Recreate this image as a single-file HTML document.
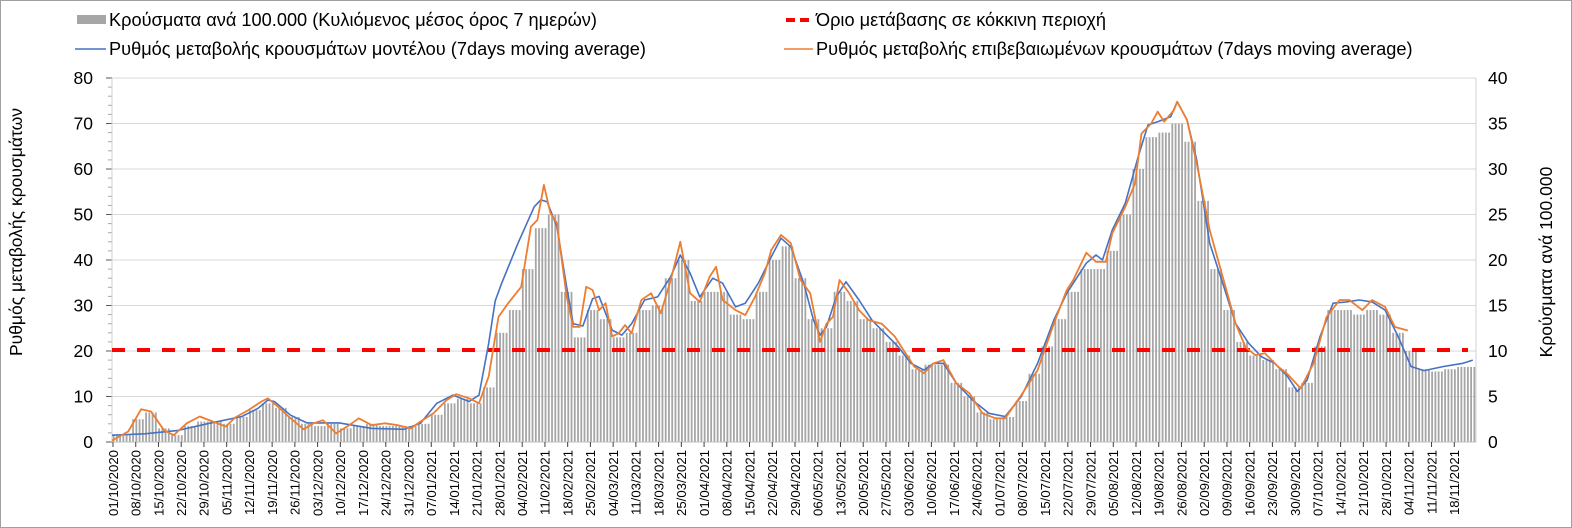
<!DOCTYPE html>
<html><head><meta charset="utf-8">
<style>
html,body{margin:0;padding:0;background:#fff;}
svg{display:block;font-family:"Liberation Sans","DejaVu Sans",sans-serif;}
</style></head>
<body>
<svg id="chart" width="1572" height="528" viewBox="0 0 1572 528" xmlns="http://www.w3.org/2000/svg">
<rect x="0.5" y="0.5" width="1571" height="527" fill="#fff" stroke="#a0a0a0"/>
<g id="grid"></g>
<g id="bars"></g>
<g id="axes"></g>
<line x1="112" x2="1468" y1="350" y2="350" stroke="#ff0000" stroke-width="4" stroke-dasharray="13,12"/>
<g id="lines"></g>
<g>
<rect x="77" y="15" width="29" height="9" fill="#a6a6a6"/>
<text x="109" y="26" font-size="18.2" fill="#000">Κρούσματα ανά 100.000 (Κυλιόμενος μέσος όρος 7 ημερών)</text>
<line x1="75" x2="106" y1="49" y2="49" stroke="#4472c4" stroke-width="1.5"/>
<text x="109" y="55" font-size="18.2" fill="#000">Ρυθμός μεταβολής κρουσμάτων μοντέλου (7days moving average)</text>
<line x1="786" x2="814" y1="20" y2="20" stroke="#ff0000" stroke-width="4" stroke-dasharray="9,5"/>
<text x="816" y="26" font-size="18.2" fill="#000">Όριο μετάβασης σε κόκκινη περιοχή</text>
<line x1="784" x2="813" y1="49" y2="49" stroke="#ed7d31" stroke-width="1.5"/>
<text x="816" y="55" font-size="18.2" fill="#000">Ρυθμός μεταβολής επιβεβαιωμένων κρουσμάτων (7days moving average)</text>
</g>
<text transform="translate(22,232) rotate(-90)" text-anchor="middle" font-size="17.5" fill="#000">Ρυθμός μεταβολής κρουσμάτων</text>
<text transform="translate(1552,262) rotate(-90)" text-anchor="middle" font-size="17.5" fill="#000">Κρούσματα ανά 100.000</text>
</svg>
<script>
// ---- data ----
const startDate = [2020, 9, 1]; // 01/10/2020 (month 0-based)
const totalDays = 420;
const leftTicks = [0,10,20,30,40,50,60,70,80];
const rightTicks = [0,5,10,15,20,25,30,35,40];
const threshold = 20;
// bars: cases per 100k (right axis), one value per 4 days starting day 0
const barDays = [0,4,8,12,16,20,24,28,32,36,40,44,48,52,56,60,64,68,72,76,80,84,88,92,96,100,104,108,112,116,120,124,128,132,136,140,144,148,152,156,160,164,168,172,176,180,184,188,192,196,200,204,208,212,216,220,224,228,232,236,240,244,248,252,256,260,264,268,272,276,280,284,288,292,296,300,304,308,312,316,320,324,328,332,336,340,344,348,352,356,360,364,368,372,376,380,384,388,392,396,400,404,408,412,416];
const barValues = [0.75,0.75,2.5,3.25,1.5,0.75,1.75,2.25,2.25,2,2.75,3.5,4.25,3.75,2.75,2,1.75,2,1.5,1.75,2,1.75,1.75,1.75,2,3,4.25,4.75,4.25,6,12,14.5,19,23.5,25,16.5,11.5,14.5,13.5,11.5,12,14.5,15,18,20,15.5,16.5,16.5,14,13.5,16.5,20,21.5,18,13.5,12.5,16.5,15.5,13.5,12.5,11,9.5,8,8.5,8.5,6.5,5,3.25,2.5,2.75,4.5,7.5,10.5,13.5,16.5,19,19,21,25,30,33.5,34,35,33,26.5,19,14.5,11,9.5,9,8,6,6.5,10.5,14.5,14.5,14,14.5,14,12,10,8,7.75,8,8.25];
// model rate (left axis)
const modelDays = [0,10,20,30,40,45,48,50,55,60,70,80,90,95,100,105,110,113,116,118,120,125,130,132,134,137,140,142,145,148,150,154,157,160,164,168,172,175,178,181,185,188,192,195,199,203,206,209,213,216,218,220,223,226,230,234,238,242,246,250,253,256,260,265,270,275,280,285,290,294,296,300,303,305,308,312,316,319,322,326,328,331,334,338,342,346,350,354,358,362,365,368,372,376,380,384,388,392,396,400,404,410,416,419];
const modelValues = [1.5,1.8,2.5,4.1,5.6,7.4,9.2,8.9,5.9,4.2,4.2,3,2.8,4.1,8.5,10.3,8.9,10.3,21.7,31,34.9,43.7,51.7,53.2,52.8,47.3,34,26,25.5,31.5,32,24.6,23.5,26,31.2,31.9,36.3,41.1,37.1,31.9,36,34.9,29.7,30.5,34.9,40.7,44.8,42.9,34.9,26.8,23.5,25.3,31.9,35.2,31.2,26.8,23.9,21,17.3,15.8,17.3,17.3,12.9,9.2,6.3,5.6,10,17.3,26.8,32.7,34.9,39.3,41.1,40,46.6,52.5,62.7,69.7,70.4,71.5,74.8,70.8,62,43.7,34.9,26,21.7,18.7,17.3,14.4,11.1,13.6,23.2,30.5,30.8,31.2,30.8,29,23.2,16.6,15.7,16.6,17.3,18];
// confirmed rate (left axis)
const confDays = [0,5,9,12,16,19,23,27,31,35,38,42,46,48,51,55,59,62,65,69,73,76,80,84,88,92,95,99,103,106,110,113,116,119,122,126,129,131,133,135,137,140,142,144,146,148,150,152,154,156,158,160,163,166,169,172,175,178,181,184,186,188,192,195,198,201,203,206,209,212,215,218,220,222,224,227,230,233,237,241,244,247,250,253,256,260,264,268,272,275,280,285,290,294,296,300,303,306,308,312,315,317,320,322,324,327,328,331,334,338,342,346,349,352,355,359,362,366,370,374,378,381,385,388,392,395,399];
const confValues = [0.3,2.3,7.2,6.7,2.6,1.5,4.1,5.6,4.5,3.4,5.4,7,8.9,9.6,7.8,5.2,2.8,4.1,4.8,1.9,3.7,5.2,3.7,4.1,3.7,3,4.5,6.3,9.2,10.5,9.6,8.5,14.4,27.5,30.5,34.1,47.3,48.8,56.5,50.3,48.1,31.9,25.3,25.3,34.1,33.4,29,30.5,23.2,23.9,25.7,23.9,31.2,32.7,28.3,35.5,44,32.7,30.8,36.3,38.5,31.2,29,27.9,31.9,37.1,42.2,45.5,43.7,35.6,32.7,22,26,27.5,35.6,32.7,29,26.8,26,23.2,19.9,16.6,15.1,17.3,18,12.9,10.7,6.3,5.2,5.2,10.3,15.8,26,33.4,35.6,41.6,39.6,39.6,45.9,51.7,56.8,67.8,70,72.6,70.4,73,74.8,70.8,61.2,46.6,36.3,26,20.9,19.1,19.5,16.6,14.9,11.8,17.3,27.5,31.2,31.2,29,31.2,29.7,25.3,24.5];

// ---- scales ----
const X0 = 112, X1 = 1476, Y0 = 442, Y1 = 78;
const dayW = (X1 - X0) / totalDays;
function xDay(d){ return X0 + d * dayW; }
function yLeft(v){ return Y0 - v / 80 * (Y0 - Y1); }
function yRight(v){ return Y0 - v / 40 * (Y0 - Y1); }
const NS = 'http://www.w3.org/2000/svg';
function mk(tag, attrs, parent){ const e = document.createElementNS(NS, tag); for (const k in attrs) e.setAttribute(k, attrs[k]); parent.appendChild(e); return e; }
const grid = document.getElementById('grid'), axes = document.getElementById('axes'), barsG = document.getElementById('bars'), linesG = document.getElementById('lines');

leftTicks.forEach((t, i) => {
  const y = yLeft(t);
  if (t > 0) { const g = mk('line', {x1:X0, x2:X1, y1:y, y2:y, stroke:'#d9d9d9', 'stroke-width':1}, grid);
    
     }
  const tl = mk('text', {x:93, y:y+6, 'text-anchor':'end', 'font-size':17.5, fill:'#000'}, axes);
  tl.textContent = t;
  
  
  const tk = mk('line', {x1:X0-6, x2:X0, y1:y, y2:y, stroke:'#595959'}, axes);
  
  
});
for (let v = 2; v < 80; v += 2) {
  if (v % 10 === 0) continue;
  const y = yLeft(v);
  const mt = mk('line', {x1:X0-4, x2:X0, y1:y, y2:y, stroke:'#a6a6a6'}, axes);
  
  
}
rightTicks.forEach(t => {
  const y = yRight(t);
  const tl = mk('text', {x:1488, y:y+6, 'font-size':17.5, fill:'#000'}, axes);
  tl.textContent = t;
  
  
});
const la = mk('line', {x1:X0, x2:X0, y1:Y1, y2:Y0, stroke:'#d0d0d0'}, axes);


const ra = mk('line', {x1:X1, x2:X1, y1:Y1, y2:Y0, stroke:'#d0d0d0'}, axes);


const xa = mk('line', {x1:X0, x2:X1, y1:Y0, y2:Y0, stroke:'#bfbfbf'}, axes);



// bars: each entry covers 4 days centred on its day
barDays.forEach((d, i) => {
  const v = barValues[i];
  for (let k = -2; k < 2; k++) {
    const dd = d + k; if (dd < 0 || dd >= totalDays) continue;
    const y = yRight(v);
    const b = mk('rect', {x:(xDay(dd)+0.7).toFixed(2), y:y.toFixed(2), width:1.8, height:(Y0-y).toFixed(2), fill:'#a6a6a6'}, barsG);
    
    
  }
});
for (let dd = 418; dd < totalDays; dd++) {
  const y = yRight(barValues[barValues.length-1]);
  const b = mk('rect', {x:(xDay(dd)+0.7).toFixed(2), y:y.toFixed(2), width:1.8, height:(Y0-y).toFixed(2), fill:'#a6a6a6'}, barsG);
  
  
}

// x labels
function pad(n){ return (n<10?'0':'')+n; }
for (let d = 0; d < totalDays; d += 7) {
  const dt = new Date(startDate[0], startDate[1], startDate[2] + d);
  const x = xDay(d) + 1;
  const tk = mk('line', {x1:x, x2:x, y1:Y0, y2:Y0+5, stroke:'#404040'}, axes);
  
  
  const t = mk('text', {transform:`translate(${(x+4.8).toFixed(1)},${Y0+8}) rotate(-90)`, 'text-anchor':'end', 'font-size':13.2, fill:'#000'}, axes);
  t.textContent = pad(dt.getDate()) + '/' + pad(dt.getMonth()+1) + '/' + dt.getFullYear();
  
  
}

function pathOf(days, vals){ return days.map((d,i)=>(i?'L':'M')+xDay(d).toFixed(1)+','+yLeft(vals[i]).toFixed(1)).join(' '); }
const mp = mk('path', {d:pathOf(modelDays, modelValues), fill:'none', stroke:'#4472c4', 'stroke-width':1.6, 'stroke-linejoin':'round'}, linesG);


const cp = mk('path', {d:pathOf(confDays, confValues), fill:'none', stroke:'#ed7d31', 'stroke-width':1.8, 'stroke-linejoin':'round'}, linesG);


</script>
</body></html>
